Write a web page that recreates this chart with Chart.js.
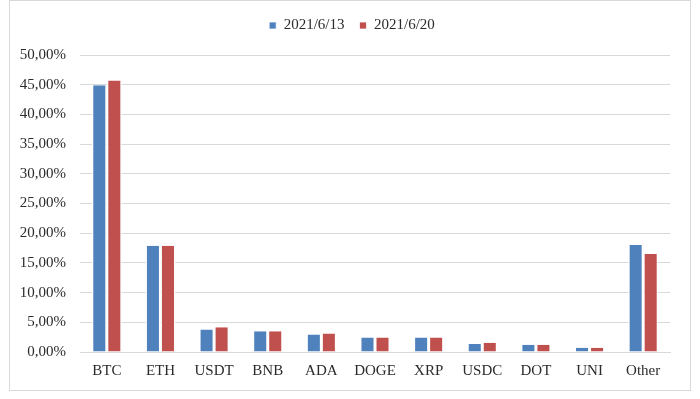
<!DOCTYPE html>
<html>
<head>
<meta charset="utf-8">
<script src="https://cdn.jsdelivr.net/npm/chart.js@4/dist/chart.umd.min.js"></script>
<style>
  html, body { margin: 0; padding: 0; background: #fff; }
  #frame { position: absolute; left: 9px; top: 0px; width: 680px; height: 389px; border: 1px solid #D9D9D9; }
  canvas { display: block; }
</style>
</head>
<body>
<div id="frame"><canvas id="c" width="680" height="389"></canvas></div>
<script>
const categories = ['BTC', 'ETH', 'USDT', 'BNB', 'ADA', 'DOGE', 'XRP', 'USDC', 'DOT', 'UNI', 'Other'];
const seriesNames = ['2021/6/13', '2021/6/20'];
const values0613 = [44.9, 17.9, 3.8, 3.5, 2.95, 2.45, 2.45, 1.35, 1.2, 0.7, 18.0];
const values0620 = [45.7, 17.9, 4.15, 3.5, 3.1, 2.45, 2.45, 1.55, 1.2, 0.7, 16.5];
const yTickMax = 50;
const yTickStep = 5;

const FONT = 'Liberation Serif, Times New Roman, serif';
const TXT = '#2b2b2b';

// extra space under the legend, and centre it on the full frame width
const legendSpacer = {
  id: 'legendSpacer',
  beforeLayout(chart) {
    const lg = chart.legend;
    if (lg && !lg._spaced) {
      const f = lg.fit;
      lg.fit = function () { f.call(this); this.height += 12; };
      lg._spaced = true;
    }
  },
  afterLayout(chart) {
    const lg = chart.legend;
    if (lg) { lg.left += 12; lg.right += 12; }
  }
};

const barStyle = {
  categoryPercentage: 0.56,
  barPercentage: 1.0,
  borderColor: '#FFFFFF',
  borderWidth: { left: 1.5, right: 1.5, top: 0, bottom: 0 },
  borderSkipped: false
};

new Chart(document.getElementById('c'), {
  type: 'bar',
  data: {
    labels: categories,
    datasets: [
      Object.assign({ label: seriesNames[0], data: values0613, backgroundColor: '#4F81BD' }, barStyle),
      Object.assign({ label: seriesNames[1], data: values0620, backgroundColor: '#C0504D' }, barStyle)
    ]
  },
  plugins: [legendSpacer],
  options: {
    responsive: false,
    animation: false,
    layout: { padding: { left: 0, right: 20, top: 2, bottom: 0 } },
    plugins: {
      legend: {
        position: 'top',
        labels: {
          boxWidth: 7, boxHeight: 7, padding: 15, color: TXT,
          font: { family: FONT, size: 15 }
        }
      },
      tooltip: { enabled: false }
    },
    scales: {
      x: {
        grid: { display: false, drawTicks: false },
        border: { display: true, color: '#D9D9D9' },
        ticks: { color: TXT, padding: 10, font: { family: FONT, size: 15 } }
      },
      y: {
        min: 0, max: yTickMax,
        afterFit: (s) => { s.width = 70; },
        grid: { color: '#D9D9D9', drawTicks: false },
        border: { display: false },
        ticks: {
          stepSize: yTickStep, padding: 14, color: TXT,
          font: { family: FONT, size: 15 },
          callback: (v) => v.toFixed(2).replace('.', ',') + '%'
        }
      }
    }
  }
});
</script>
</body>
</html>
